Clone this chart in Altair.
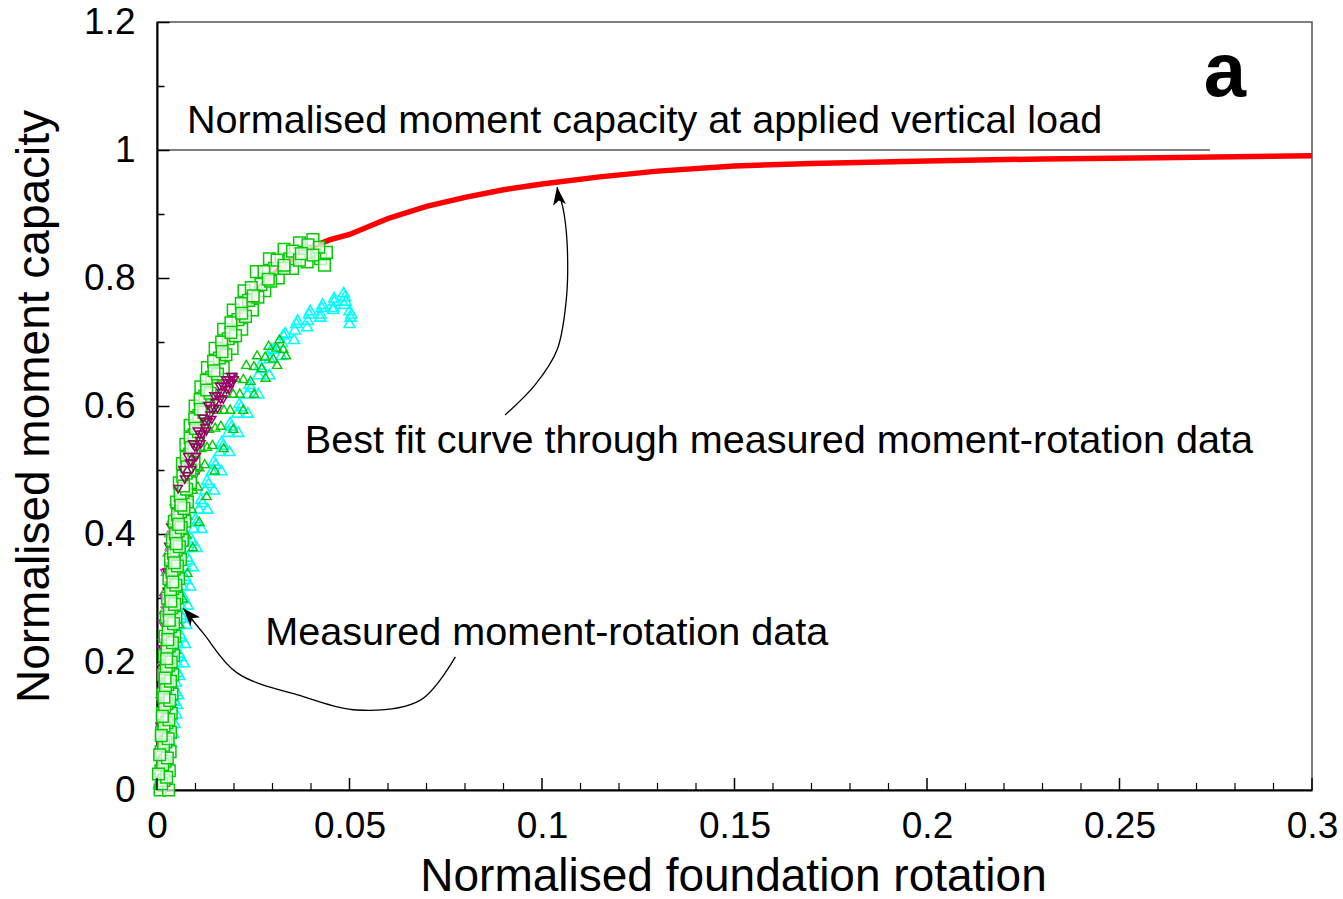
import altair as alt
import pandas as pd

# ---------------- data ----------------
fit_x = [0, 0.0008, 0.0016, 0.0024, 0.0033, 0.0043, 0.0055, 0.0070, 0.0090, 0.0115,
         0.0145, 0.018, 0.022, 0.026, 0.030, 0.035, 0.040, 0.045, 0.050, 0.060,
         0.070, 0.080, 0.090, 0.100, 0.115, 0.130, 0.150, 0.170, 0.200, 0.230, 0.260, 0.300]
fit_y = [0, 0.06, 0.13, 0.20, 0.27, 0.34, 0.41, 0.48, 0.54, 0.60,
         0.65, 0.70, 0.745, 0.78, 0.805, 0.83, 0.848, 0.86, 0.868, 0.893,
         0.912, 0.926, 0.938, 0.947, 0.958, 0.967, 0.975, 0.979, 0.983, 0.986, 0.988, 0.991]

sq_x = [0.0008, 0.0010, 0.0011, 0.0012, 0.0014, 0.0015, 0.0017, 0.0019, 0.0021, 0.0024,
        0.0027, 0.0031, 0.0035, 0.0040, 0.0045, 0.0051, 0.0058, 0.0066, 0.0075, 0.0086,
        0.0099, 0.0114, 0.0131, 0.0151, 0.0173, 0.0198, 0.0226, 0.0258, 0.0292, 0.0330,
        0.0370, 0.0405,
        0.0030, 0.0032, 0.0034, 0.0035, 0.0037, 0.0039, 0.0041, 0.0043, 0.0046, 0.0049,
        0.0052, 0.0056, 0.0061, 0.0066, 0.0072, 0.0079, 0.0087, 0.0096, 0.0107, 0.0120,
        0.0135, 0.0152, 0.0172, 0.0195, 0.0220, 0.0248, 0.0280, 0.0315, 0.0352, 0.0390,
        0.0425, 0.0440, 0.0435,
        0.0018, 0.0021, 0.0023, 0.0025, 0.0026, 0.0028, 0.0030, 0.0032, 0.0035, 0.0038,
        0.0041, 0.0045, 0.0050, 0.0055, 0.0061, 0.0068, 0.0076, 0.0085, 0.0096, 0.0109,
        0.0124, 0.0142, 0.0162, 0.0185, 0.0210, 0.0238, 0.0270, 0.0305, 0.0345, 0.0385,
        0.0420,
        0.0012, 0.0015, 0.0017, 0.0018, 0.0020, 0.0022, 0.0024, 0.0026, 0.0029, 0.0032,
        0.0035, 0.0039, 0.0043, 0.0048, 0.0053, 0.0060, 0.0067, 0.0076, 0.0086, 0.0098,
        0.0112, 0.0128, 0.0147, 0.0168, 0.0192, 0.0219, 0.0245, 0.0278, 0.0312, 0.0352,
        0.0392,
        0.0025, 0.0027, 0.0029, 0.0031, 0.0033, 0.0035, 0.0037, 0.0040, 0.0043, 0.0046,
        0.0049, 0.0053, 0.0058, 0.0063, 0.0070, 0.0077, 0.0086, 0.0096, 0.0108, 0.0122,
        0.0138, 0.0157, 0.0179, 0.0204, 0.0230, 0.0262, 0.0295, 0.0330, 0.0370, 0.0405,
        0.0004, 0.0007, 0.0011, 0.0014, 0.0018, 0.0021, 0.0025, 0.0028, 0.0032, 0.0036,
        0.0041, 0.0045, 0.0050, 0.0056, 0.0062, 0.0069, 0.0078, 0.0088, 0.0100, 0.0113,
        0.0129, 0.0148, 0.0169, 0.0192, 0.0220, 0.0250, 0.0289, 0.0330, 0.0375]
sq_y = [0.00, 0.03, 0.06, 0.09, 0.12, 0.15, 0.18, 0.21, 0.24, 0.27,
        0.30, 0.33, 0.36, 0.39, 0.42, 0.45, 0.48, 0.51, 0.54, 0.57,
        0.60, 0.63, 0.66, 0.69, 0.72, 0.75, 0.78, 0.81, 0.83, 0.845,
        0.855, 0.86,
        0.00, 0.03, 0.06, 0.09, 0.12, 0.15, 0.18, 0.21, 0.24, 0.27,
        0.30, 0.33, 0.36, 0.39, 0.42, 0.45, 0.48, 0.51, 0.54, 0.57,
        0.60, 0.63, 0.66, 0.69, 0.72, 0.75, 0.78, 0.80, 0.815, 0.825,
        0.83, 0.84, 0.82,
        0.015, 0.045, 0.075, 0.105, 0.135, 0.165, 0.195, 0.225, 0.255, 0.285,
        0.315, 0.345, 0.375, 0.405, 0.435, 0.465, 0.495, 0.525, 0.555, 0.585,
        0.615, 0.645, 0.675, 0.705, 0.735, 0.765, 0.79, 0.815, 0.83, 0.84,
        0.848,
        0.01, 0.04, 0.07, 0.10, 0.13, 0.16, 0.19, 0.22, 0.25, 0.28,
        0.31, 0.34, 0.37, 0.40, 0.43, 0.46, 0.49, 0.52, 0.55, 0.58,
        0.61, 0.64, 0.67, 0.70, 0.73, 0.76, 0.785, 0.81, 0.828, 0.842,
        0.852,
        0.02, 0.05, 0.08, 0.11, 0.14, 0.17, 0.20, 0.23, 0.26, 0.29,
        0.32, 0.35, 0.38, 0.41, 0.44, 0.47, 0.50, 0.53, 0.56, 0.59,
        0.62, 0.65, 0.68, 0.71, 0.74, 0.77, 0.795, 0.815, 0.828, 0.836,
        0.025, 0.055, 0.085, 0.115, 0.145, 0.175, 0.205, 0.235, 0.265, 0.295,
        0.325, 0.355, 0.385, 0.415, 0.445, 0.475, 0.505, 0.535, 0.565, 0.595,
        0.625, 0.655, 0.685, 0.715, 0.745, 0.772, 0.798, 0.82, 0.838]

mr_x = [0.0005, 0.0007, 0.0009, 0.0011, 0.0013, 0.0015, 0.0018, 0.0021, 0.0025, 0.0030,
        0.0036, 0.0045, 0.0055, 0.0067, 0.0080, 0.0093, 0.0105, 0.0118, 0.0132, 0.0148,
        0.0163, 0.0178, 0.0192, 0.0190,
        0.0012, 0.0014, 0.0016, 0.0018, 0.0020, 0.0023, 0.0026, 0.0030, 0.0035, 0.0043,
        0.0052, 0.0064, 0.0077, 0.0090, 0.0104, 0.0118, 0.0133, 0.0149, 0.0165, 0.0181,
        0.0195,
        0.0008, 0.0010, 0.0012, 0.0014, 0.0016, 0.0019, 0.0022, 0.0026, 0.0031, 0.0039,
        0.0048, 0.0059, 0.0072, 0.0085, 0.0098, 0.0111, 0.0125, 0.0140, 0.0156, 0.0171,
        0.0186,
        0.0100, 0.0112, 0.0125, 0.0138, 0.0152, 0.0167, 0.0182, 0.0197, 0.0200, 0.0187,
        0.0172, 0.0157, 0.0142, 0.0128, 0.0114, 0.0102, 0.0090]
mr_y = [0.02, 0.06, 0.10, 0.14, 0.18, 0.22, 0.26, 0.30, 0.34, 0.38,
        0.41, 0.44, 0.47, 0.50, 0.52, 0.54, 0.56, 0.58, 0.60, 0.615,
        0.63, 0.64, 0.645, 0.635,
        0.04, 0.08, 0.12, 0.16, 0.20, 0.24, 0.28, 0.32, 0.36, 0.40,
        0.43, 0.46, 0.49, 0.51, 0.535, 0.555, 0.575, 0.595, 0.61, 0.625,
        0.635,
        0.03, 0.07, 0.11, 0.15, 0.19, 0.23, 0.27, 0.31, 0.35, 0.39,
        0.425, 0.455, 0.485, 0.51, 0.535, 0.555, 0.575, 0.595, 0.615, 0.63,
        0.64,
        0.52, 0.545, 0.565, 0.585, 0.605, 0.62, 0.635, 0.645, 0.64, 0.625,
        0.61, 0.595, 0.578, 0.56, 0.54, 0.52, 0.50]

gt_x = [0.0010, 0.0013, 0.0016, 0.0019, 0.0022, 0.0026, 0.0031, 0.0037, 0.0045, 0.0055,
        0.0067, 0.0081, 0.0097, 0.0115, 0.0135, 0.0157, 0.0180, 0.0205, 0.0232, 0.0260,
        0.0290, 0.0318,
        0.0022, 0.0025, 0.0028, 0.0031, 0.0035, 0.0040, 0.0046, 0.0054, 0.0064, 0.0076,
        0.0090, 0.0106, 0.0124, 0.0144, 0.0166, 0.0190, 0.0215, 0.0243, 0.0272, 0.0302,
        0.0328,
        0.0016, 0.0019, 0.0022, 0.0025, 0.0028, 0.0033, 0.0038, 0.0045, 0.0054, 0.0065,
        0.0078, 0.0093, 0.0110, 0.0130, 0.0151, 0.0174, 0.0198, 0.0224, 0.0252, 0.0281,
        0.0310,
        0.0034, 0.0038, 0.0043, 0.0049, 0.0057, 0.0067, 0.0079, 0.0093, 0.0110, 0.0129,
        0.0150, 0.0173, 0.0198, 0.0224, 0.0252, 0.0282, 0.0312, 0.0335]
gt_y = [0.02, 0.06, 0.10, 0.14, 0.18, 0.22, 0.26, 0.30, 0.34, 0.38,
        0.42, 0.46, 0.50, 0.535, 0.565, 0.595, 0.62, 0.645, 0.665, 0.68,
        0.695, 0.705,
        0.04, 0.08, 0.12, 0.16, 0.20, 0.24, 0.28, 0.32, 0.36, 0.40,
        0.44, 0.475, 0.51, 0.54, 0.57, 0.595, 0.62, 0.64, 0.66, 0.675,
        0.69,
        0.03, 0.07, 0.11, 0.15, 0.19, 0.23, 0.27, 0.31, 0.35, 0.39,
        0.43, 0.47, 0.505, 0.537, 0.567, 0.595, 0.62, 0.643, 0.663, 0.678,
        0.692,
        0.10, 0.14, 0.18, 0.22, 0.26, 0.30, 0.34, 0.38, 0.42, 0.46,
        0.50, 0.535, 0.565, 0.595, 0.62, 0.645, 0.665, 0.68]

cy_x = [0.0005, 0.0015, 0.0030, 0.0042, 0.0050, 0.0055, 0.0058, 0.0061, 0.0064, 0.0067,
        0.0071, 0.0076, 0.0083, 0.0092, 0.0104, 0.0118, 0.0134, 0.0152, 0.0172, 0.0194,
        0.0218, 0.0244, 0.0272, 0.0302, 0.0333, 0.0365, 0.0398, 0.0430, 0.0460, 0.0485,
        0.0045, 0.0049, 0.0052, 0.0055, 0.0058, 0.0062, 0.0067, 0.0074, 0.0083, 0.0095,
        0.0109, 0.0125, 0.0143, 0.0163, 0.0185, 0.0209, 0.0235, 0.0263, 0.0293, 0.0325,
        0.0358, 0.0392, 0.0425, 0.0458, 0.0490, 0.0500, 0.0503, 0.0500,
        0.0050, 0.0054, 0.0057, 0.0060, 0.0063, 0.0067, 0.0072, 0.0079, 0.0088, 0.0100,
        0.0114, 0.0130, 0.0148, 0.0168, 0.0190, 0.0214, 0.0240, 0.0268, 0.0297, 0.0328,
        0.0362, 0.0395, 0.0428, 0.0460, 0.0488,
        0.0010, 0.0022, 0.0036, 0.0046, 0.0052,
        0.0070, 0.0073, 0.0076, 0.0080, 0.0086, 0.0093, 0.0103, 0.0116, 0.0131, 0.0148,
        0.0167, 0.0188, 0.0211, 0.0236, 0.0263, 0.0292, 0.0323, 0.0356, 0.0390, 0.0424,
        0.0457, 0.0486, 0.0505]
cy_y = [0.01, 0.03, 0.06, 0.09, 0.12, 0.15, 0.18, 0.21, 0.24, 0.27,
        0.30, 0.33, 0.36, 0.39, 0.42, 0.45, 0.48, 0.51, 0.54, 0.57,
        0.60, 0.63, 0.66, 0.69, 0.715, 0.735, 0.75, 0.76, 0.77, 0.778,
        0.14, 0.17, 0.20, 0.23, 0.26, 0.29, 0.32, 0.35, 0.38, 0.41,
        0.44, 0.47, 0.50, 0.53, 0.56, 0.59, 0.62, 0.65, 0.675, 0.70,
        0.72, 0.735, 0.745, 0.755, 0.765, 0.75, 0.74, 0.73,
        0.155, 0.185, 0.215, 0.245, 0.275, 0.305, 0.335, 0.365, 0.395, 0.425,
        0.455, 0.485, 0.515, 0.545, 0.575, 0.605, 0.635, 0.665, 0.69, 0.712,
        0.73, 0.745, 0.755, 0.765, 0.772,
        0.02, 0.045, 0.075, 0.105, 0.135,
        0.20, 0.23, 0.26, 0.29, 0.32, 0.35, 0.38, 0.41, 0.44, 0.47,
        0.50, 0.53, 0.56, 0.59, 0.62, 0.65, 0.68, 0.705, 0.725, 0.74,
        0.752, 0.76, 0.745]

gr_x = [0.0008, 0.0010, 0.0012, 0.0014, 0.0017, 0.0019, 0.0020, 0.0024, 0.0026, 0.0028,
        0.0030, 0.0033]
gr_y = [0.15, 0.20, 0.24, 0.28, 0.31, 0.29, 0.34, 0.37, 0.35, 0.40, 0.38, 0.42]

mg_x = [0.0003, 0.0004, 0.0005, 0.0006, 0.0008, 0.0010, 0.0012, 0.0015, 0.0018, 0.0100, 0.0110]
mg_y = [0.02, 0.06, 0.10, 0.14, 0.18, 0.22, 0.26, 0.30, 0.34, 0.49, 0.50]

# Axis ticks
x_major = [0.0, 0.05, 0.1, 0.15, 0.2, 0.25, 0.3]
x_minor = [0.01, 0.02, 0.03, 0.04, 0.06, 0.07, 0.08, 0.09, 0.11, 0.12, 0.13, 0.14,
           0.16, 0.17, 0.18, 0.19, 0.21, 0.22, 0.23, 0.24, 0.26, 0.27, 0.28, 0.29]
y_major = [0.0, 0.2, 0.4, 0.6, 0.8, 1.0, 1.2]
y_all = [0.0, 0.1, 0.2, 0.3, 0.4, 0.5, 0.6, 0.7, 0.8, 0.9, 1.0, 1.1, 1.2]

cap_x0, cap_x1, cap_y = 0.0, 0.2735, 1.0

ann_text = ["Normalised moment capacity at applied vertical load",
            "Best fit curve through measured moment-rotation data",
            "Measured moment-rotation data"]
ann_x = [0.0078, 0.0384, 0.0281]
ann_y = [1.026, 0.5266, 0.2273]

arr1_x = [0.0904, 0.0982, 0.1039, 0.1063, 0.1066, 0.1058, 0.1048, 0.1039]
arr1_y = [0.586, 0.633, 0.6875, 0.7656, 0.844, 0.898, 0.925, 0.942]
arr2_x = [0.0775, 0.0683, 0.0519, 0.0380, 0.0208, 0.0120, 0.0068]
arr2_y = [0.208, 0.140, 0.125, 0.146, 0.183, 0.245, 0.284]
head_x = [0.1039, 0.0068]
head_y = [0.942, 0.284]
head_angle = [352, 318]

# ---------------- chart ----------------
FONT = "Liberation Sans"
W, H = 1155, 768

xs = alt.Scale(domain=[0, 0.3], nice=False, zero=False)
ys = alt.Scale(domain=[0, 1.2], nice=False, zero=False)
xaxis = alt.Axis(values=x_major, title="Normalised foundation rotation",
                 labelExpr="toString(round(datum.value*100)/100)",
                 titleX=576, titleY=100, titleBaseline="alphabetic",
                 labelPadding=18, labelFlush=False, ticks=False, tickSize=0)
yaxis = alt.Axis(values=y_major, title="Normalised moment capacity",
                 labelExpr="toString(round(datum.value*10)/10)",
                 titleX=-109, titleY=384, titleBaseline="alphabetic", titleAngle=270,
                 titleAlign="center", labelPadding=22, labelFlush=False,
                 ticks=False, tickSize=0)
# right-oriented axis moved onto the left edge: its ticks point into the plot
ytick_axis = alt.Axis(orient="right", offset=-W, values=y_all, labels=False,
                      domain=False, title=None, grid=False, ticks=True,
                      tickColor="black", tickWidth=1.5,
                      tickSize={"condition": {"test": "round(datum.value*10) % 2 == 0",
                                              "value": 12}, "value": 7})


def X(f):
    return alt.X(f, type="quantitative", scale=xs, axis=xaxis)


def Y(f):
    return alt.Y(f, type="quantitative", scale=ys, axis=yaxis)


def df(xv, yv):
    return pd.DataFrame({"x": xv, "y": yv, "i": list(range(len(xv)))})


fit = alt.Chart(df(fit_x, fit_y)).mark_line(color="#FF0000", strokeWidth=5.5).encode(
    x=X("x"), y=Y("y"), order="i:Q")


def pts(data, color, shape, size, sw=1.1, fill=None):
    kw = dict(shape=shape, color=color, size=size, strokeWidth=sw, opacity=1)
    if fill is None:
        kw["filled"] = False
    else:
        kw.update(filled=True, fill=fill, fillOpacity=0.7, stroke=color)
    return alt.Chart(data).mark_point(**kw).encode(x=X("x"), y=Y("y"))


mr_df = df(mr_x, mr_y)
grey = pts(df(gr_x, gr_y), "#8C8C8C", "triangle-up", 50)
mag = pts(df(mg_x, mg_y), "#E000E0", "triangle-down", 45)
cyan = pts(df(cy_x, cy_y), "#00FFFF", "triangle-up", 120, 1.6)
gtri = pts(df(gt_x, gt_y), "#00CC00", "triangle-up", 85, 1.4)
maroon_low = pts(mr_df[mr_df.y < 0.47], "#990066", "triangle-down", 65, 1.4)
maroon_high = pts(mr_df[mr_df.y >= 0.47], "#990066", "triangle-down", 70, 1.5)
squares = pts(df(sq_x, sq_y), "#00CC00", "square", 135, 1.5, fill="white")

xt_major = alt.Chart(pd.DataFrame({"xt": x_major})).mark_rule(
    color="black", strokeWidth=1.5).encode(x=X("xt"), y=alt.value(H), y2=alt.value(H - 12))
xt_minor = alt.Chart(pd.DataFrame({"xt": x_minor})).mark_rule(
    color="black", strokeWidth=1.2).encode(x=X("xt"), y=alt.value(H), y2=alt.value(H - 7))

cap = alt.Chart(pd.DataFrame({"x": [cap_x0], "x2": [cap_x1], "y": [cap_y]})).mark_rule(
    color="black", strokeWidth=1.2).encode(x=X("x"), x2="x2", y=Y("y"))

texts = alt.Chart(pd.DataFrame({"t": ann_text, "x": ann_x, "y": ann_y})).mark_text(
    align="left", baseline="alphabetic", font=FONT, fontSize=39.6, color="black").encode(
    x=X("x"), y=Y("y"), text="t:N")

label_a = alt.Chart(pd.DataFrame({"t": ["a"], "x": [0.2719], "y": [1.0844]})).mark_text(
    align="left", baseline="alphabetic", font=FONT, fontSize=76, fontWeight="bold",
    color="black").encode(x=X("x"), y=Y("y"), text="t:N")

arrow1 = alt.Chart(df(arr1_x, arr1_y)).mark_line(
    color="black", strokeWidth=1.3, interpolate="catmull-rom").encode(
    x=X("x"), y=Y("y"), order="i:Q")
arrow2 = alt.Chart(df(arr2_x, arr2_y)).mark_line(
    color="black", strokeWidth=1.3, interpolate="catmull-rom").encode(
    x=X("x"), y=Y("y"), order="i:Q")
heads = alt.Chart(pd.DataFrame({"x": head_x, "y": head_y, "a": head_angle})).mark_point(
    shape="M0,0L0.65,1.8L0,1.35L-0.65,1.8Z", filled=True, color="black", size=400,
    opacity=1, strokeWidth=0).encode(
    x=X("x"), y=Y("y"), angle=alt.Angle("a:Q", scale=None))

main = alt.layer(
    fit, grey, mag, maroon_low, cyan, gtri, squares, maroon_high,
    cap, texts, label_a, arrow1, arrow2, heads,
    xt_major, xt_minor,
)

# invisible layer that only carries the inward y ticks
ytick_layer = alt.Chart(pd.DataFrame({"yt": y_all})).mark_point(opacity=0).encode(
    x=alt.value(0),
    y=alt.Y("yt", type="quantitative", scale=ys, axis=ytick_axis))

chart = alt.layer(main, ytick_layer).resolve_axis(y="independent").properties(
    width=W, height=H, autosize="none",
    padding={"left": 157, "top": 22, "right": 31, "bottom": 109},
    background="white",
).configure_view(
    stroke="#555555", strokeWidth=1.5
).configure_axis(
    grid=False, domainColor="black", domainWidth=2,
    labelFont=FONT, labelFontSize=37, labelColor="black",
    titleFont=FONT, titleFontSize=46, titleColor="black", titleFontWeight="normal",
)

chart.save("out.html", embed_options={"renderer": "svg", "actions": False})
